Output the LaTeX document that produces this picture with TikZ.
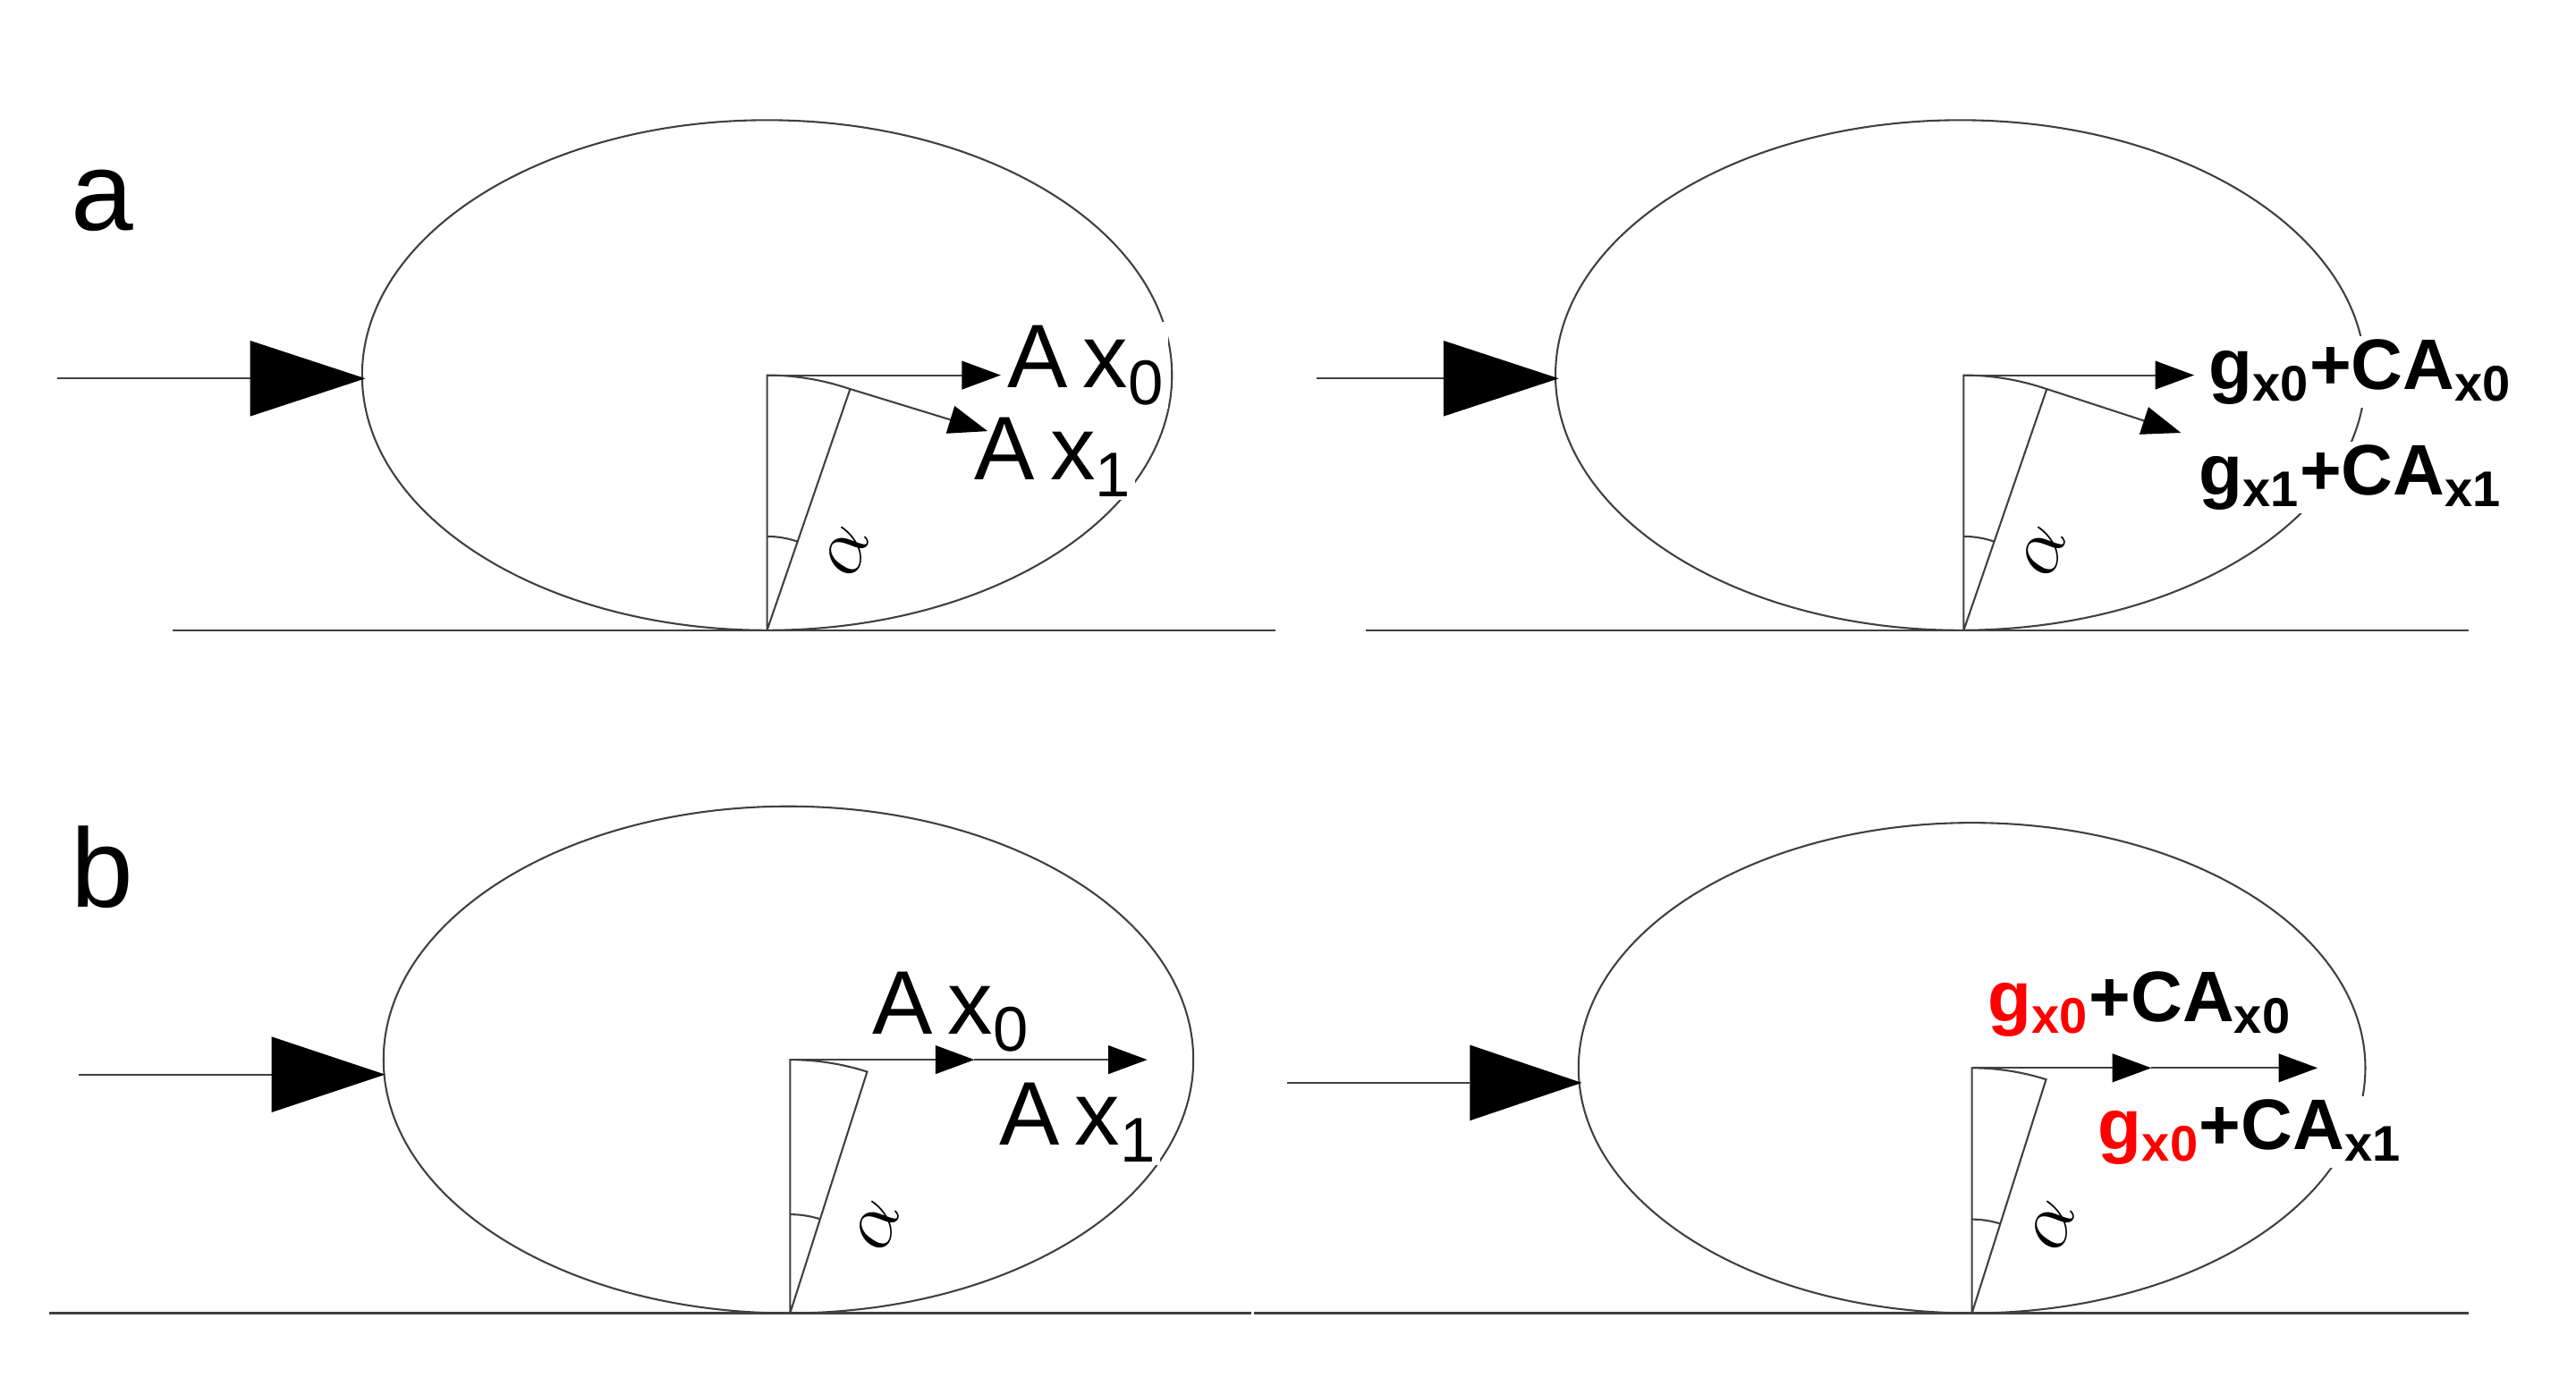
\documentclass[tikz,border=0pt]{standalone}
\usepackage{fontspec}
\setmainfont{Liberation Sans}
\usetikzlibrary{arrows.meta}
\begin{document}
\begin{tikzpicture}[x=0.01858cm,y=-0.01858cm,
  ln/.style={black!75,line width=0.6pt},
  arr/.style={ln,-{Triangle[length=4.4mm,width=3.2mm,black]}},
  big/.style={fill=black},
  lab/.style={font=\fontsize{29}{30}\selectfont,inner sep=1pt,fill=white},
  blab/.style={font=\fontsize{23}{24}\selectfont\bfseries,inner sep=1pt,fill=white},
  al/.style={font=\fontsize{23}{23}\selectfont,rotate=70},
  pl/.style={font=\fontsize{36}{36}\selectfont}]
\useasboundingbox (0,0) rectangle (1565,842);
\colorlet{gred}{red}
% ---------- a left
\draw[ln] (466,228) ellipse [x radius=246, y radius=155];
\node[lab] (ax0) at (660,222) {A\,x\textsubscript{0}};
\node[lab] (ax1) at (640,278) {A\,x\textsubscript{1}};
\coordinate (aT) at (466,228); \coordinate (aB) at (466,383);
\coordinate (aP) at (516.5,236.4); \coordinate (aE) at (600,262);
\coordinate (aH) at (608,228);
\draw[ln] (aB) -- (aT) arc[start angle=-90,end angle=-71,radius=155] -- (aB);
\draw[ln] (466,326) arc[start angle=-90,end angle=-71,radius=57];
\draw[arr] (aT) -- (aH);
\draw[arr] (aP) -- (aE);
\node[al] (aal) at (515,335) {$\alpha$};
\coordinate (ai0) at (35,230); \coordinate (ai1) at (152,230);
\draw[ln] (ai0) -- (ai1);
\fill[big] (152,207) -- (222,230) -- (152,253) -- cycle;
\draw[ln] (105,383) -- (775,383);
\node[pl] (la) at (62,122) {a};
% ---------- a right
\draw[ln] (1191,228) ellipse [x radius=246, y radius=155];
\coordinate (bT) at (1193,228); \coordinate (bB) at (1193,383);
\coordinate (bP) at (1243.5,236.4); \coordinate (bE) at (1325,263);
\coordinate (bH) at (1333,228);
\draw[ln] (bB) -- (bT) arc[start angle=-90,end angle=-71,radius=155] -- (bB);
\draw[ln] (1193,326) arc[start angle=-90,end angle=-71,radius=57];
\draw[arr] (bT) -- (bH);
\draw[arr] (bP) -- (bE);
\node[blab] (bx0) at (1434,226) {g\textsubscript{x0}+CA\textsubscript{x0}};
\node[blab] (bx1) at (1428,290) {g\textsubscript{x1}+CA\textsubscript{x1}};
\node[al] (bal) at (1242,335) {$\alpha$};
\coordinate (bi0) at (800,230); \coordinate (bi1) at (877,230);
\draw[ln] (bi0) -- (bi1);
\fill[big] (877,207) -- (947,230) -- (877,253) -- cycle;
\draw[ln] (830,383) -- (1500,383);
% ---------- b left
\draw[ln] (479,644) ellipse [x radius=246, y radius=154];
\node[lab] (cx0) at (578,615) {A\,x\textsubscript{0}};
\node[lab] (cx1) at (655,682) {A\,x\textsubscript{1}};
\coordinate (cT) at (480,644); \coordinate (cB) at (480,798);
\coordinate (cP) at (527,651); \coordinate (cM) at (592,644);
\coordinate (cH) at (697,644);
\draw[ln] (cB) -- (cT) arc[start angle=-90,end angle=-72.3,radius=154] -- (cB);
\draw[ln] (480,738) arc[start angle=-90,end angle=-72.3,radius=60];
\draw[arr] (cT) -- (cM);
\draw[arr] (cM) -- (cH);
\node[al] (cal) at (533,745) {$\alpha$};
\coordinate (ci0) at (48,653); \coordinate (ci1) at (165,653);
\draw[ln] (ci0) -- (ci1);
\fill[big] (165,630) -- (234,653) -- (165,676) -- cycle;
\draw[ln] (30,798) -- (760,798);
\node[pl] (lb) at (62,527) {b};
% ---------- b right
\draw[ln] (1198,649) ellipse [x radius=239, y radius=149];
\coordinate (dT) at (1198,649); \coordinate (dB) at (1198,798);
\coordinate (dP) at (1243,656); \coordinate (dM) at (1307,649);
\coordinate (dH) at (1408,649);
\draw[ln] (dB) -- (dT) arc[start angle=-90,end angle=-72.4,radius=149] -- (dB);
\draw[ln] (1198,741) arc[start angle=-90,end angle=-72.4,radius=57];
\draw[arr] (dT) -- (dM);
\draw[arr] (dM) -- (dH);
\node[blab] (dx0) at (1300,610) {\textcolor{gred}{g\textsubscript{x0}}+CA\textsubscript{x0}};
\node[blab] (dx1) at (1367,688) {\textcolor{gred}{g\textsubscript{x0}}+CA\textsubscript{x1}};
\node[al] (dal) at (1247,745) {$\alpha$};
\coordinate (di0) at (782,658); \coordinate (di1) at (893,658);
\draw[ln] (di0) -- (di1);
\fill[big] (893,635) -- (961,658) -- (893,681) -- cycle;
\draw[ln] (762,798) -- (1500,798);
\end{tikzpicture}
\end{document}
